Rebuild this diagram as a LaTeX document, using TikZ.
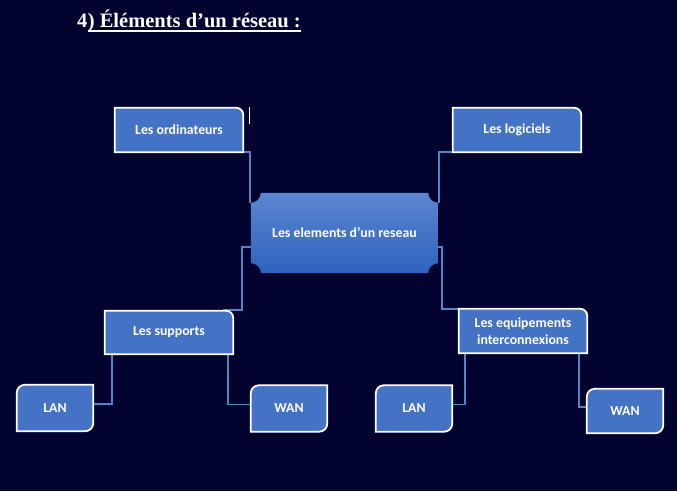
\documentclass[tikz,border=0pt]{standalone}
\usepackage{fontspec}
\setmainfont{Carlito}
\newfontfamily\titlefont{Liberation Serif}
\definecolor{bgc}{RGB}{2,3,46}
\definecolor{boxc}{RGB}{68,114,196}
\definecolor{connc}{RGB}{79,135,198}
\definecolor{topc}{RGB}{92,134,208}
\definecolor{botc}{RGB}{46,98,189}
\newcommand\trbox[1]{\draw[boxsh] (#1.south west) -- (#1.north west) -- ([xshift=-7pt]#1.north east) arc[start angle=90,end angle=0,radius=7pt] -- (#1.south east) -- cycle;}
\newcommand\diagbox[1]{\draw[boxsh] (#1.south west) -- ([yshift=-8pt]#1.north west) arc[start angle=180,end angle=90,radius=8pt] -- (#1.north east) -- ([yshift=8pt]#1.south east) arc[start angle=0,end angle=-90,radius=8pt] -- cycle;}
\tikzset{
  lbl/.style={inner sep=0pt, text=white, font=\bfseries\fontsize{13.8}{17}\selectfont, align=center},
  wide/.style={lbl, minimum width=128pt},
  small/.style={lbl, minimum width=76pt, minimum height=46pt},
  boxsh/.style={fill=boxc, draw=white, line width=1.8pt},
  conn/.style={draw=connc, line width=1.8pt},
  ttl/.style={inner sep=0pt, text=white, font=\titlefont\bfseries\fontsize{20.5}{24}\selectfont}
}
\begin{document}
\begin{tikzpicture}[x=1pt,y=1pt]
\fill[bgc] (0,0) rectangle (677,491);
\useasboundingbox (0,0) rectangle (677,491);
% title
\node[ttl, anchor=base west] (t4) at (77,463) {4};
\node[ttl, anchor=base west] (trest) at (t4.base east) {) Éléments d’un réseau :};
\draw[white, line width=1.6pt] ([yshift=-3pt]trest.base west) -- ([yshift=-3pt]trest.base east);
% nodes
\node[wide, minimum height=44pt] (ord) at (179,361) {};
\node[wide, minimum height=44pt] (log) at (517,361) {};
\node[lbl, minimum width=187pt, minimum height=80pt] (cen) at (344.5,258) {};
\node[wide, minimum height=43pt] (sup) at (169,158.5) {};
\node[wide, minimum height=44pt] (eq) at (523,160) {};
\node[small] (lanL) at (55,83) {};
\node[small] (wanL) at (289,82.5) {};
\node[small] (lanR) at (414,82.5) {};
\node[small, minimum height=44pt] (wanR) at (625,80) {};
% connectors
\draw[conn] (ord.south east) -- ++(7,0) |- ([yshift=-9pt]cen.north west);
\draw[conn] (log.south west) -- ++(-14,0) |- ([yshift=-9pt]cen.north east);
\draw[conn] ([yshift=-14pt]cen.west) -- ++(-9,0) |- ([xshift=-10pt,yshift=1pt]sup.north east);
\draw[conn] ([yshift=-14pt]cen.east) -- ++(4,0) |- (eq.north west);
\draw[conn] ([xshift=7pt]sup.south west) |- ([yshift=4pt]lanL.east);
\draw[conn] ([xshift=-5pt]sup.south east) |- ([yshift=4pt]wanL.west);
\draw[conn] ([xshift=6pt]eq.south west) |- ([yshift=4pt]lanR.east);
\draw[conn] ([xshift=-8pt]eq.south east) |- ([yshift=4pt]wanR.west);
% shapes
\trbox{ord}\trbox{log}\trbox{sup}\trbox{eq}
\diagbox{lanL}\diagbox{wanL}\diagbox{lanR}\diagbox{wanR}
\shade[top color=topc, bottom color=botc]
  ([yshift=-10pt]cen.north west) arc[start angle=270,end angle=360,radius=10pt]
  -- ([xshift=-10pt]cen.north east) arc[start angle=180,end angle=270,radius=10pt]
  -- ([yshift=10pt]cen.south east) arc[start angle=90,end angle=180,radius=10pt]
  -- ([xshift=10pt]cen.south west) arc[start angle=0,end angle=90,radius=10pt] -- cycle;
% labels
\node[lbl] (ordt) at (ord) {Les ordinateurs};
\node[lbl] (logt) at (log) {Les logiciels};
\node[lbl] (cent) at (cen) {Les elements d’un reseau};
\node[lbl] (supt) at (sup) {Les supports};
\node[lbl] (eqt) at (eq) {Les equipements\\interconnexions};
\node[lbl] (lanLt) at (lanL) {LAN};
\node[lbl] (wanLt) at (wanL) {WAN};
\node[lbl] (lanRt) at (lanR) {LAN};
\node[lbl] (wanRt) at (wanR) {WAN};
% text cursor
\draw[white, line width=0.8pt] (249,384) -- (249,367);
\end{tikzpicture}
\end{document}
